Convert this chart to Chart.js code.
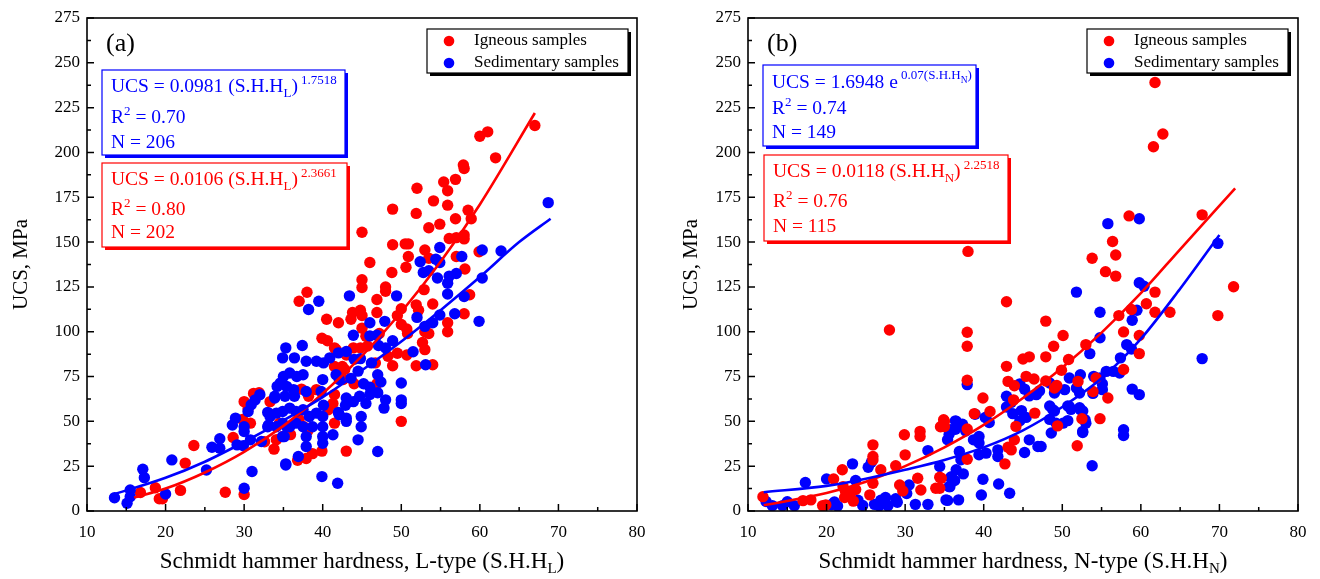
<!DOCTYPE html>
<html>
<head>
<meta charset="utf-8">
<script src="https://cdn.jsdelivr.net/npm/chart.js@4.4.1/dist/chart.umd.min.js"></script>
<style>
  html, body { margin: 0; padding: 0; background: #fff; }
  #wrap { position: relative; width: 1320px; height: 579px; }
  canvas { position: absolute; top: 0; }
  #ca { left: 0; }
  #cb { left: 660px; }
</style>
</head>
<body>
<div id="wrap">
  <canvas id="ca" width="660" height="579"></canvas>
  <canvas id="cb" width="660" height="579"></canvas>
</div>
<script>
// ====== ticks ======
const X_TICKS = [10, 20, 30, 40, 50, 60, 70, 80];
const X_MINOR = [15, 25, 35, 45, 55, 65, 75];
const Y_TICKS = [0, 25, 50, 75, 100, 125, 150, 175, 200, 225, 250, 275];
const Y_MINOR = [12.5, 37.5, 62.5, 87.5, 112.5, 137.5, 162.5, 187.5, 212.5, 237.5, 262.5];

// ====== (a) L-type: [S.H.H, UCS] ======
const A_IGN = [
  [67,215],[60,209],[61,211.5],[62,197],[57.9,193],[58,191],[56.9,185],[55.4,183.5],[55.9,178.6],[52,180],
  [54.1,173],[55.9,170.6],[48.9,168.4],[51.9,166],[58.5,167.8],[58.9,163],[56.9,163],[54.9,160],[53.5,158],[45,155.5],
  [56.1,152],[57,152.5],[58,154],[58,151.8],[48.9,148.5],[50.5,149],[50.9,149],[57,142],[53,145.6],[50.9,142],
  [59.9,144.6],[46,138.6],[50.6,136],[53.5,141],[58.1,135],[48.8,133],[45,129],[45,124.7],[48,125],[48,122.6],
  [52.9,123.5],[58.7,120.6],[46.9,118],[37,117],[38,122],[51.9,115],[52.2,112],[54,115.5],[44.8,112],[45,109],
  [46.9,110.7],[43.8,110.7],[43.6,107],[50,112.8],[40.5,107],[42,105],[49.5,109],[58,110],[55.9,105],[55.9,100],
  [50,104],[45,102],[45.5,97.5],[47.2,99],[50.8,99],[53,100],[53.5,99],[50.7,101.5],[39.9,96.4],[40.6,95],
  [41.5,91],[41.7,90],[43,87],[43.9,91],[44.8,91],[45.7,92],[52.7,94],[53,90],[49.5,88],[50.7,87],
  [48.3,86.3],[46.7,82.6],[48.9,81],[51.9,81],[54,81.6],[41.5,80.6],[42.5,80.6],[42.8,78.9],[42.6,73.3],[44,71],
  [46.9,71],[37.3,68],[38.2,64],[39.2,67.7],[31.2,65.6],[31.9,66],[30,61],[30.5,57],[41.5,65],[41.3,60],
  [40.7,56.5],[33.3,61],[50,50],[41.5,49],[37,51],[37.6,47],[38.1,44.7],[35.9,42.6],[34.5,49],[28.6,41],
  [23.6,36.5],[29.8,51],[30.8,49],[33.8,34.5],[32.6,38.6],[34.1,39.8],[34.9,41.6],[43,33.4],[39.9,33.4],[38.7,32],
  [36.8,28.3],[37.9,29.3],[22.5,26.7],[18.7,13],[21.9,11.5],[19.2,6.8],[19.6,6.8],[16.8,10.3],[27.6,10.5],[30,9.2]
];
const A_SED = [
  [68.7,172],[60.3,145.6],[62.7,145],[54.9,147],[57.7,142],[52.4,139],[54.4,140.4],[54.9,138.6],[52.8,133],[53.5,134],
  [54.6,130],[56.1,131],[57,132.5],[55.9,127],[60.3,130],[43.4,120],[39.5,117],[38.2,112.4],[49.4,120],[55.9,121],
  [58,119.6],[56.8,110],[54.9,109.3],[52,108],[46,105],[47.9,105.8],[59.9,105.8],[54,105],[53,103],[43.9,98],
  [46,97.7],[46.9,98],[48.9,95],[47.1,92.3],[48,90.9],[51.5,88.8],[35.3,91],[34.9,85.4],[36.4,85.4],[37.4,92.3],
  [37.9,83.5],[39.2,83.5],[40.1,82.6],[40.9,85.4],[42,88.2],[43,89],[44,84.6],[44.8,85],[46.2,82.6],[53.1,81.6],
  [35,75],[35.8,77],[36.7,75],[37.5,76],[34.6,71.4],[35.4,69.5],[36.3,67.7],[34.2,69.5],[33.9,64],[35.2,64],
  [36.4,64],[37.9,66.7],[40,73.3],[39.8,66.7],[41.7,76],[42.1,73.3],[43.6,74],[44.5,78],[45.2,71],[46,69],
  [47,76],[47.4,72],[43,63],[43.9,61],[44.7,64],[45.5,60],[46,65],[47,66],[48,62],[47.8,57.4],
  [50,71.4],[50,62],[50,60],[33.3,52.7],[34.1,54.6],[34.9,55.5],[35.8,57.4],[36.6,55.5],[37.5,56.5],[38.3,52.7],
  [39.2,54.6],[40,52.7],[34.1,47],[34.9,49],[35.8,47],[36.6,49],[37.5,47],[38.7,47],[34.9,41.5],[37.9,41.5],
  [40,47],[40,41.5],[40,37.8],[41.3,42.5],[42.1,53.7],[43,51.8],[43,50],[44.9,52.7],[44.9,47],[44.5,39.7],
  [47,33.2],[37.9,36],[36.9,30.4],[35.3,26.3],[39.9,19.2],[41.9,15.5],[33,55],[33,47],[40.1,59],[42.9,59],
  [42,55],[13.5,7.4],[15.1,4.3],[15.5,11.7],[15.5,8],[17.1,23.3],[17.3,18.6],[20,9.5],[20.8,28.5],[25.2,22.9],
  [25.9,35.6],[26.9,35],[26.9,40.3],[28.5,48],[28.9,51.8],[29.1,36.9],[29.9,36.4],[30,47],[30,44.3],[30.5,55.5],
  [30.9,59.3],[31.4,62],[32,64.9],[30.8,39.7],[32.2,38.8],[30,12.7],[31,22],[33.1,48],[33.9,63],[35.3,25.7],
  [35.1,41.5],[35.4,47]
];
// fitted curves
const A_IGN_FIT = [[16,7.5],[20,12.5],[25,21.5],[30,33],[35,47.5],[40,65.5],[45,86.5],[50,111],[55,139],[60,171],[67,222]];
const A_SED_FIT = [[13,8.8],[20,18.5],[25,27.5],[30,38.5],[35,50.5],[40,63.5],[45,78.5],[50,94.5],[55,112],[60,130.5],[65,150],[69,163]];

// ====== (b) N-type ======
const B_IGN = [
  [61.8,239],[62.8,210.3],[61.6,203.2],[58.5,164.6],[67.8,165.2],[56.4,150.3],[56.8,142.8],[53.8,141],[38,144.8],[55.5,133.5],
  [56.8,131],[71.8,125.1],[61.8,122.1],[60.7,115.6],[61.8,110.9],[63.7,110.9],[69.8,109],[58.8,112.4],[57.2,109],[57.8,99.9],
  [59.8,97.9],[59.8,87.8],[50.1,97.9],[48.9,91.9],[53,92.8],[50.8,84.5],[49.9,78.5],[57.8,78.9],[54.3,74.2],[52,72.3],
  [53.9,66.7],[55.8,63],[49,68.6],[52.5,51.5],[54.8,51.5],[49.4,47.5],[51.9,36.4],
  [42.9,116.7],[37.9,99.7],[37.9,91.9],[47.9,105.9],[45,84.8],[45.8,86],[47.9,86],[42.9,80.7],[45.4,75.1],[46.4,73.6],
  [43.1,72.3],[43.9,69.9],[47.9,72.5],[49.3,70],[37.9,72.9],[34.9,50.9],[35,47.1],[37.9,45.7],[39.9,63],[38.8,54.3],
  [40.8,55.5],[43.8,62],[46.5,54.6],[44.1,47.2],[43.9,39.7],[43.1,35.6],[43.5,34.1],[42.7,26.3],[37.9,28.9],[34.6,18.3],
  [34.4,12.7],[28,101],
  [11.9,8],[17,5.8],[18,6.2],[19.5,3],[19.9,3.4],[20.9,17.9],[22,23],[22.1,13.6],[22.4,11],[23.7,12],
  [22.3,7.5],[23,9.5],[23.4,5.5],[25.5,9],[25.9,36.9],[25.9,30.4],[25.9,28.5],[25.9,15.5],[26.9,23],[28.8,25.2],
  [29.3,14.5],[29.7,11.2],[29.9,42.5],[30,31.3],[31.6,18.3],[32,11.7],[31.9,44.4],[31.9,41.6],[33.9,12.7],[34.4,18.8],
  [34.5,47],[35,50]
];
const B_SED = [
  [59.8,163],[55.8,160.3],[69.8,149.3],[59.8,127.3],[60.4,125.4],[51.8,122.1],[54.8,110.9],[59.5,112],[58.9,106.4],[54.8,96.6],
  [53.5,87.8],[58.2,92.8],[58.8,90.4],[57.4,85.4],[67.8,85],[50.9,74.2],[52.3,76],[54,75.1],[54.8,74.2],[55.6,77.9],
  [56.5,77.9],[57.3,77],[53.9,65.6],[55.1,67.7],[55.1,70.9],[58.9,68],[59.8,64.9],[48.8,56.5],[50.9,58.3],[52.3,56.5],
  [52.9,50.9],[50.1,49],[52.6,44.4],[57.8,45.3],[57.8,42.1],
  [37.9,70.5],[42.9,64],[43.5,60.6],[44.6,70.9],[45.2,68],[45.8,64.2],[46.7,64.9],[47.1,67],[42.9,58],[43.7,54.3],
  [44.8,56],[45.4,52.2],[44.6,50.3],[48.4,71.4],[49,65.8],[50.3,67.7],[51.8,68.6],[52.2,65.8],[48.4,58.6],[49,55.8],
  [48.4,51.1],[50.7,58.6],[51.1,56.7],[52.2,57.6],[52.6,55.8],[50.7,50.4],[53,49],[52.6,43.8],[48.6,43.5],[49.2,49],
  [45.8,39.7],[46.9,36],[47.3,36],[45.2,32.6],[38.9,54],[40.2,52.2],[40.7,49.4],[36.4,50.3],[37.3,48.4],[36.4,45.6],
  [35.6,42.8],[37.7,44.7],[38.7,39.7],[39.4,41.6],[39.4,37.9],[40.3,32.3],[41.8,34.1],[41.8,30.4],[36.9,33.2],[37.1,28.6],
  [39.4,31.4],[34.4,24.8],[35.9,19.2],[36.3,17],[37.4,20.7],[35.7,13.6],[39.9,17.7],[41.9,15.1],[43.3,9.9],[39.7,8.9],
  [35.2,6.2],[36.8,6.2],[53.8,25.2],
  [12.3,5.3],[13.1,3],[14.4,3],[15,5.2],[15.9,3],[17.3,15.9],[20,17.9],[23.3,26.3],[20.6,3.5],[21.4,2.8],
  [21,5],[23.7,17],[22.9,10],[24.6,3.1],[24,6],[25.3,24.4],[25.7,27.2],[26.9,6],[27.5,7.5],[26.1,3.7],
  [26.7,2.9],[27.8,2.9],[29,4.9],[30.5,14.5],[31.3,3.7],[32.9,3.7],[35.4,5.9],[32.9,33.7],[35.4,39.7],[35.8,45.3],
  [36.5,50],[35.8,18.6],[35.6,13.6],[36.5,23],[30.2,9.8],[28.8,6.8]
];
const B_IGN_FIT = [[12,3.2],[20,10],[25,16.3],[30,25],[35,35.5],[40,48],[45,63],[50,80],[55,99.5],[60,121.5],[65,146],[72,180]];
const B_SED_FIT = [[12,10.5],[20,14],[25,18],[30,23],[35,28.5],[40,35.5],[45,45],[50,58],[55,74],[60,96],[65,124],[70,154]];

const RED = "#ff0000", BLUE = "#0000ff";
const SERIF = '"Liberation Serif", "Times New Roman", serif';
const font = px => px + "px " + SERIF;
const pts = arr => arr.map(p => ({ x: p[0], y: p[1] }));

// draw runs of text: [text, size, dy]
function drawRuns(ctx, runs, x, y, align) {
  let w = 0;
  runs.forEach(r => { ctx.font = font(r[1]); w += ctx.measureText(r[0]).width; });
  let cx = align === "center" ? x - w / 2 : x;
  ctx.textAlign = "left"; ctx.textBaseline = "alphabetic";
  runs.forEach(r => {
    ctx.font = font(r[1]);
    ctx.fillText(r[0], cx, y + (r[2] || 0));
    cx += ctx.measureText(r[0]).width;
  });
}

function shadowBox(ctx, x, y, w, h, color) {
  ctx.fillStyle = color;
  ctx.fillRect(x + 3, y + 3, w, h);
  ctx.fillStyle = "#fff";
  ctx.fillRect(x, y, w, h);
  ctx.strokeStyle = color; ctx.lineWidth = 1.2;
  ctx.strokeRect(x, y, w, h);
}

function decor(p) {
  return {
    id: "decor",
    afterDraw(chart) {
      const ctx = chart.ctx, a = chart.chartArea, xs = chart.scales.x, ys = chart.scales.y;
      ctx.save();
      // inward ticks + frame
      ctx.strokeStyle = "#000"; ctx.lineWidth = 1.5;
      ctx.beginPath();
      X_TICKS.forEach(v => { const q = xs.getPixelForValue(v); ctx.moveTo(q, a.bottom); ctx.lineTo(q, a.bottom - 7); });
      X_MINOR.forEach(v => { const q = xs.getPixelForValue(v); ctx.moveTo(q, a.bottom); ctx.lineTo(q, a.bottom - 4); });
      Y_TICKS.forEach(v => { const q = ys.getPixelForValue(v); ctx.moveTo(a.left, q); ctx.lineTo(a.left + 7, q); });
      Y_MINOR.forEach(v => { const q = ys.getPixelForValue(v); ctx.moveTo(a.left, q); ctx.lineTo(a.left + 4, q); });
      ctx.stroke();
      ctx.lineWidth = 1.6;
      ctx.strokeRect(a.left, a.top, a.right - a.left, a.bottom - a.top);

      // panel label
      ctx.fillStyle = "#000";
      drawRuns(ctx, [[p.label, 26]], p.labelX, 51);

      // legend
      shadowBox(ctx, p.legendX, 29, 201, 44, "#000");
      ctx.fillStyle = RED; ctx.beginPath(); ctx.arc(p.legendX + 22, 41, 5.3, 0, Math.PI * 2); ctx.fill();
      ctx.fillStyle = BLUE; ctx.beginPath(); ctx.arc(p.legendX + 22, 63, 5.3, 0, Math.PI * 2); ctx.fill();
      ctx.fillStyle = "#000"; ctx.font = font(17); ctx.textAlign = "left"; ctx.textBaseline = "middle";
      ctx.fillText("Igneous samples", p.legendX + 47, 41);
      ctx.fillText("Sedimentary samples", p.legendX + 47, 63);

      // equation boxes
      p.boxes.forEach(b => {
        shadowBox(ctx, b.x, b.y, b.w, b.h, b.color);
        ctx.fillStyle = b.color;
        b.lines.forEach(l => drawRuns(ctx, l.runs, b.x + 9, l.y));
      });

      // axis titles
      ctx.fillStyle = "#000";
      drawRuns(ctx, p.xTitle, (a.left + a.right) / 2, 568, "center");
      ctx.translate(p.yTitleX, (a.top + a.bottom) / 2);
      ctx.rotate(-Math.PI / 2);
      drawRuns(ctx, [["UCS, MPa", 21]], 0, 7, "center");
      ctx.restore();
    }
  };
}

function makeChart(id, p) {
  new Chart(document.getElementById(id), {
    type: "scatter",
    data: {
      datasets: [
        { data: pts(p.sedFit), showLine: true, borderColor: BLUE, borderWidth: 2.6, pointRadius: 0, cubicInterpolationMode: "monotone", order: 0 },
        { data: pts(p.ignFit), showLine: true, borderColor: RED, borderWidth: 2.6, pointRadius: 0, cubicInterpolationMode: "monotone", order: 1 },
        { data: pts(p.ign), backgroundColor: RED, borderWidth: 0, pointRadius: 5.7, order: p.redTop ? 2 : 3 },
        { data: pts(p.sed), backgroundColor: BLUE, borderWidth: 0, pointRadius: 5.7, order: p.redTop ? 3 : 2 }
      ]
    },
    options: {
      responsive: false, animation: false, events: [],
      layout: { padding: { top: 18, right: p.padRight, left: 0, bottom: 0 } },
      plugins: { legend: { display: false }, tooltip: { enabled: false } },
      scales: {
        x: {
          type: "linear", min: 10, max: 80,
          afterBuildTicks: s => { s.ticks = X_TICKS.map(v => ({ value: v })); },
          afterFit: s => { s.height = 68; },
          grid: { display: false, drawTicks: false }, border: { display: false },
          ticks: { color: "#000", padding: 11, font: { family: SERIF, size: 17 } }
        },
        y: {
          type: "linear", min: 0, max: 275,
          afterBuildTicks: s => { s.ticks = Y_TICKS.map(v => ({ value: v })); },
          afterFit: s => { s.width = p.yWidth; },
          grid: { display: false, drawTicks: false }, border: { display: false },
          ticks: { color: "#000", padding: 7, font: { family: SERIF, size: 17 } }
        }
      }
    },
    plugins: [decor(p)]
  });
}

makeChart("ca", {
  ign: A_IGN, sed: A_SED, ignFit: A_IGN_FIT, sedFit: A_SED_FIT, redTop: false,
  padRight: 23, yWidth: 87, yTitleX: 20, label: "(a)", labelX: 106, legendX: 427,
  xTitle: [["Schmidt hammer hardness, L-type (S.H.H", 23], ["L", 15, 5], [")", 23]],
  boxes: [
    { x: 102, y: 70, w: 243, h: 85, color: BLUE, lines: [
      { y: 92, runs: [["UCS = 0.0981 (S.H.H", 19.5], ["L", 13, 5], [")", 19.5], [" 1.7518", 13, -8]] },
      { y: 123, runs: [["R", 19.5], ["2", 13, -8], [" = 0.70", 19.5]] },
      { y: 148, runs: [["N = 206", 19.5]] } ] },
    { x: 102, y: 163, w: 245, h: 84, color: RED, lines: [
      { y: 185, runs: [["UCS = 0.0106 (S.H.H", 19.5], ["L", 13, 5], [")", 19.5], [" 2.3661", 13, -8]] },
      { y: 215, runs: [["R", 19.5], ["2", 13, -8], [" = 0.80", 19.5]] },
      { y: 238, runs: [["N = 202", 19.5]] } ] }
  ]
});

makeChart("cb", {
  ign: B_IGN, sed: B_SED, ignFit: B_IGN_FIT, sedFit: B_SED_FIT, redTop: true,
  padRight: 22, yWidth: 88, yTitleX: 30, label: "(b)", labelX: 107, legendX: 427,
  xTitle: [["Schmidt hammer hardness, N-type (S.H.H", 23], ["N", 15, 5], [")", 23]],
  boxes: [
    { x: 103, y: 65, w: 213, h: 81, color: BLUE, lines: [
      { y: 88, runs: [["UCS = 1.6948 e", 19.5], [" 0.07(S.H.H", 13, -9], ["N", 9.5, -5], [")", 13, -9]] },
      { y: 114, runs: [["R", 19.5], ["2", 13, -8], [" = 0.74", 19.5]] },
      { y: 138, runs: [["N = 149", 19.5]] } ] },
    { x: 104, y: 155, w: 244, h: 86, color: RED, lines: [
      { y: 177, runs: [["UCS = 0.0118 (S.H.H", 19.5], ["N", 13, 5], [")", 19.5], [" 2.2518", 13, -8]] },
      { y: 207, runs: [["R", 19.5], ["2", 13, -8], [" = 0.76", 19.5]] },
      { y: 232, runs: [["N = 115", 19.5]] } ] }
  ]
});
</script>
</body>
</html>
